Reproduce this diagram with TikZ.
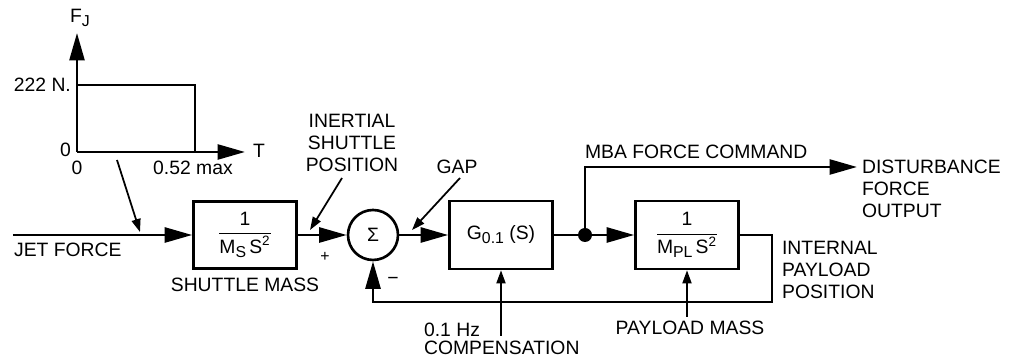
\documentclass[tikz,border=0pt]{standalone}
\usepackage{fontspec}
\setmainfont{Liberation Sans}
\usepackage{amsmath}
\usetikzlibrary{arrows.meta, positioning}
\newcommand{\lowsub}[1]{\raisebox{-0.35ex}{\fontsize{9}{9}\selectfont #1}}

\begin{document}
\begin{tikzpicture}[
font=\fontsize{11}{12.5}\selectfont,
block/.style={rectangle, draw=black, line width=1.5pt, minimum width=2.06cm, minimum height=1.34cm, inner sep=2pt},
summer/.style={circle, draw=black, line width=1.5pt, minimum size=1cm, inner sep=0pt},
junction/.style={circle, fill=black, minimum size=0.28cm, inner sep=0pt},
signal/.style={line width=1.5pt, -{Triangle[length=5.5mm, width=3mm]}},
wire/.style={line width=1.5pt},
pointer/.style={line width=1pt, -{Triangle[length=2.6mm, width=1.8mm]}},
caption/.style={align=center, inner sep=1pt},
note/.style={align=left, inner sep=1pt}
]
\useasboundingbox (0,0) rectangle (20.2,7.22);
% jet force pulse sketch
\coordinate (origin) at (1.54,4.18);
\draw[signal] (origin) -- (1.54,6.56);
\draw[signal] (origin) -- (4.9,4.18);
\draw[wire] (1.54,5.52) -- (3.9,5.52) -- (3.9,4.18);
\node[inner sep=1pt] (fj) at (1.6,6.86) {F\lowsub{J}};
\node[anchor=east, inner sep=1pt] (level) at (1.46,5.52) {222 N.};
\node[anchor=east, inner sep=1pt] (zeroy) at (1.46,4.22) {0};
\node[inner sep=1pt] (zerox) at (1.54,3.86) {0};
\node[inner sep=1pt] (tmax) at (3.86,3.86) {0.52 max};
\node[anchor=west, inner sep=1pt] (taxis) at (5.02,4.2) {T};
% forward path
\coordinate (jetin) at (0.26,2.52);
\node[block] (shuttle) at (4.9,2.52) {$\dfrac{\text{1}}{\text{M\lowsub{S}\,S}^\text{2}}$};
\node[summer] (sum) at (7.46,2.52) {Σ};
\node[block, minimum height=1.36cm] (comp) at (10.02,2.52) {G\lowsub{0.1} (S)};
\node[junction] (split) at (11.7,2.52) {};
\node[block, minimum height=1.36cm] (payload) at (13.74,2.52) {$\dfrac{\text{1}}{\text{M\lowsub{PL}\,S}^\text{2}}$};
\coordinate (mbaend) at (17.14,3.88);
\coordinate (fbcorner) at (15.44,1.18);
\draw[signal] (jetin) -- (shuttle);
\draw[signal] (shuttle) -- (sum);
\draw[signal] (sum) -- (comp);
\draw[wire] (comp) -- (split);
\draw[signal] (split) -- (payload);
\draw[signal] (split) |- (mbaend);
\draw[signal] (payload.east) -| (fbcorner) -| (sum.south);
% labels
\node[note, anchor=west] (jetlabel) at (0.24,2.22) {JET FORCE};
\node[inner sep=1pt] (shuttlelabel) at (4.9,1.52) {SHUTTLE MASS};
\node[caption] (inertial) at (7.04,4.36) {INERTIAL\\SHUTTLE\\POSITION};
\node[inner sep=1pt] (gap) at (9.14,3.88) {GAP};
\node[inner sep=1pt, font=\small] (plus) at (6.5,2.08) {+};
\node[inner sep=1pt] (minus) at (7.86,1.6) {−};
\node[note, anchor=west] (mba) at (11.66,4.18) {MBA FORCE COMMAND};
\node[note, anchor=west] (disturb) at (17.2,3.44) {DISTURBANCE\\FORCE\\OUTPUT};
\node[note, anchor=west] (internal) at (15.6,1.82) {INTERNAL\\PAYLOAD\\POSITION};
\node[note, anchor=west, font=\fontsize{11}{10.5}\selectfont] (compnote) at (8.44,0.44) {0.1 Hz\\COMPENSATION};
\node[inner sep=1pt] (massnote) at (13.8,0.66) {PAYLOAD MASS};
% pointers
\coordinate (graphfoot) at (2.34,4.02);
\coordinate (graphtip) at (2.8,2.58);
\coordinate (inertialfoot) at (6.84,3.66);
\coordinate (inertialtip) at (6.2,2.62);
\coordinate (gapfoot) at (9.2,3.66);
\coordinate (gaptip) at (8.24,2.62);
\coordinate (compfoot) at (10.02,0.5);
\coordinate (massfoot) at (13.74,0.88);
\draw[pointer] (graphfoot) -- (graphtip);
\draw[pointer] (inertialfoot) -- (inertialtip);
\draw[pointer] (gapfoot) -- (gaptip);
\draw[pointer] (compfoot) -- (comp.south);
\draw[pointer] (massfoot) -- (payload.south);
\end{tikzpicture}
\end{document}
